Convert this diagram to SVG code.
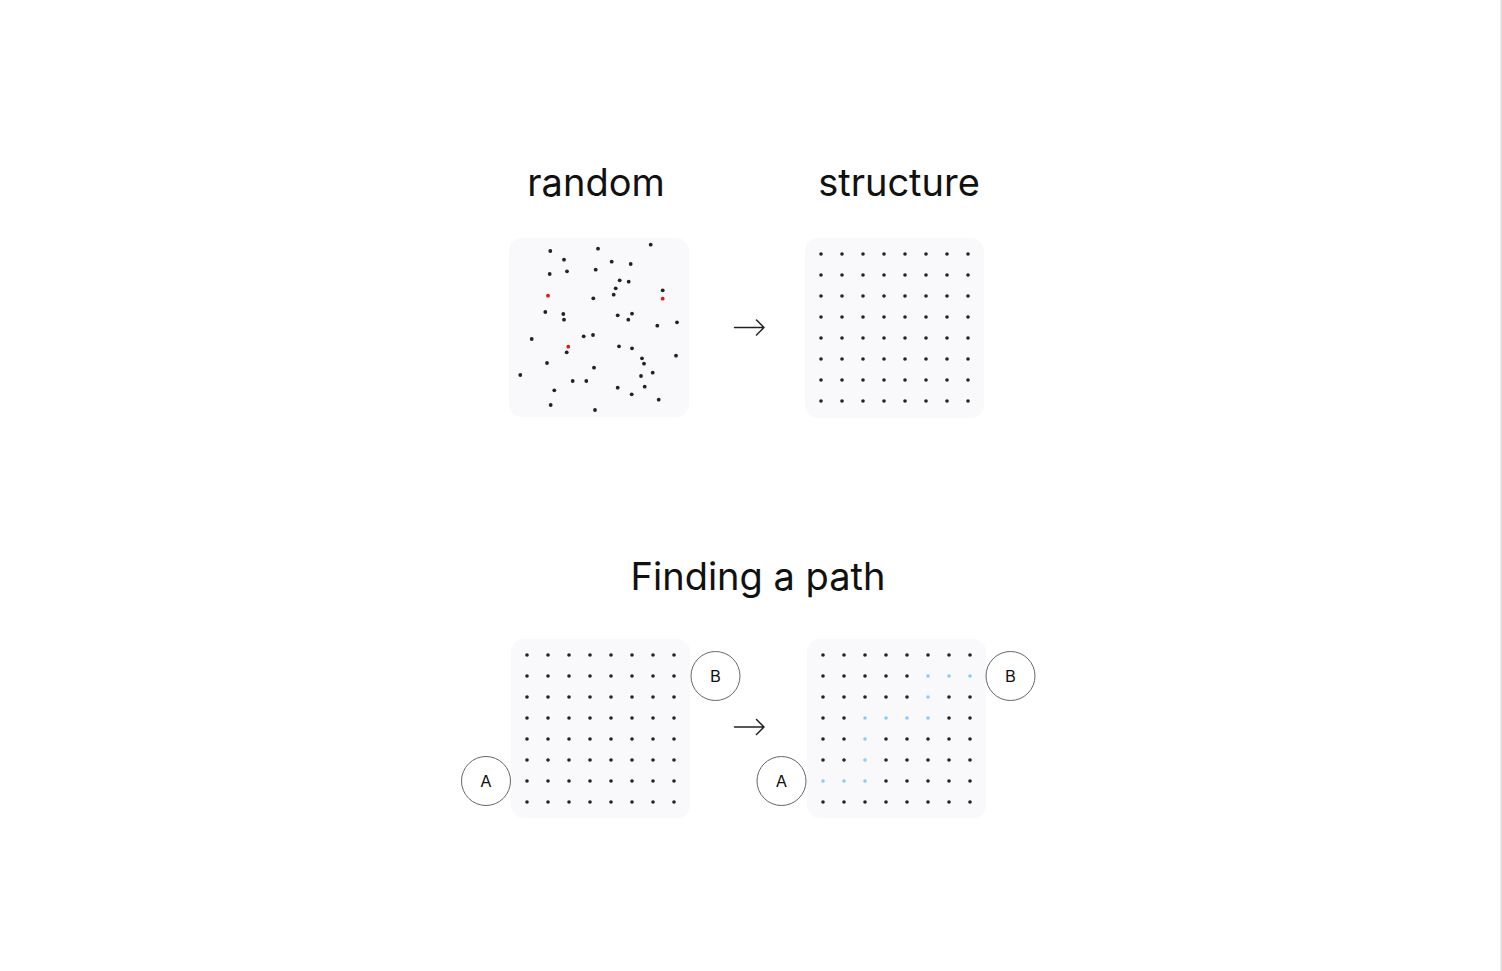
<svg xmlns="http://www.w3.org/2000/svg" xmlns:xlink="http://www.w3.org/1999/xlink" width="1502" height="971" viewBox="0 0 1502 971">
<style>
.title{font-family:Inter,"Noto Sans","Liberation Sans",sans-serif;font-size:38px;fill:#111;text-anchor:middle}
.lbl{font-family:Inter,"Noto Sans","Liberation Sans",sans-serif;font-size:16.5px;fill:#111;text-anchor:middle;dominant-baseline:central}
.box{fill:#f9f9fb}
.d{fill:#222}
.r{fill:#f01010}
.b{fill:#86cdf5}
.ring{fill:#fff;stroke:#666;stroke-width:1}
.conn{fill:none;stroke:#222;stroke-width:1.5;stroke-linecap:round;stroke-linejoin:round}
</style>
<defs>
<g id="row">
<circle cx="0" cy="0" r="1.8"/><circle cx="21" cy="0" r="1.8"/><circle cx="42" cy="0" r="1.8"/><circle cx="63" cy="0" r="1.8"/><circle cx="84" cy="0" r="1.8"/><circle cx="105" cy="0" r="1.8"/><circle cx="126" cy="0" r="1.8"/><circle cx="147" cy="0" r="1.8"/>
</g>
<g id="grid" class="d">
<use xlink:href="#row" y="0"/><use xlink:href="#row" y="21"/><use xlink:href="#row" y="42"/><use xlink:href="#row" y="63"/><use xlink:href="#row" y="84"/><use xlink:href="#row" y="105"/><use xlink:href="#row" y="126"/><use xlink:href="#row" y="147"/>
</g>
</defs>
<rect x="0" y="0" width="1502" height="971" fill="#fff"/>
<rect x="1500.5" y="0" width="1.5" height="971" fill="#dcdcdc"/>

<g id="titles">
<text class="title" x="596" y="196">random</text>
<text class="title" x="899" y="196">structure</text>
<text class="title" x="758" y="590">Finding a path</text>
</g>

<g id="random">
<rect class="box" x="509" y="238" width="180" height="179" rx="13"/>
<g class="d">
<circle cx="550.3" cy="251" r="1.9"/><circle cx="598" cy="248.7" r="1.9"/><circle cx="650.7" cy="244.7" r="1.9"/>
<circle cx="564" cy="259.7" r="1.9"/><circle cx="611.7" cy="261.7" r="1.9"/><circle cx="630.7" cy="264" r="1.9"/>
<circle cx="549.7" cy="274" r="1.9"/><circle cx="567" cy="271.3" r="1.9"/><circle cx="595.7" cy="269.7" r="1.9"/>
<circle cx="619.7" cy="280.3" r="1.9"/><circle cx="628.7" cy="281.7" r="1.9"/><circle cx="615.7" cy="288.3" r="1.9"/>
<circle cx="662.7" cy="290.3" r="1.9"/><circle cx="613.7" cy="294.7" r="1.9"/><circle cx="593.3" cy="298.3" r="1.9"/>
<circle cx="545.3" cy="312" r="1.9"/><circle cx="563.3" cy="314" r="1.9"/><circle cx="564" cy="319.7" r="1.9"/>
<circle cx="617.7" cy="315.3" r="1.9"/><circle cx="632" cy="313.7" r="1.9"/><circle cx="628.3" cy="319.7" r="1.9"/>
<circle cx="657.3" cy="325.7" r="1.9"/><circle cx="677" cy="322.3" r="1.9"/><circle cx="531.7" cy="339" r="1.9"/>
<circle cx="583.7" cy="336.3" r="1.9"/><circle cx="593" cy="335" r="1.9"/><circle cx="566.7" cy="352.3" r="1.9"/>
<circle cx="619" cy="346.3" r="1.9"/><circle cx="632" cy="348.3" r="1.9"/><circle cx="676" cy="355.7" r="1.9"/>
<circle cx="642" cy="358.3" r="1.9"/><circle cx="644" cy="363.7" r="1.9"/><circle cx="547" cy="363" r="1.9"/>
<circle cx="594" cy="367.7" r="1.9"/><circle cx="520.3" cy="375" r="1.9"/><circle cx="652.7" cy="372.7" r="1.9"/>
<circle cx="641" cy="376" r="1.9"/><circle cx="572.7" cy="381" r="1.9"/><circle cx="586.3" cy="381" r="1.9"/>
<circle cx="617.7" cy="387.7" r="1.9"/><circle cx="644.7" cy="386.7" r="1.9"/><circle cx="554.3" cy="390.3" r="1.9"/>
<circle cx="631.7" cy="394.3" r="1.9"/><circle cx="658.7" cy="399.7" r="1.9"/><circle cx="550.7" cy="405" r="1.9"/>
<circle cx="595" cy="410" r="1.9"/>
</g>
<g class="r">
<circle cx="548" cy="295.7" r="1.9"/><circle cx="662.7" cy="298.7" r="1.9"/><circle cx="568.3" cy="346.7" r="1.9"/>
</g>
</g>

<g id="structure">
<rect class="box" x="805" y="238" width="179" height="180" rx="13"/>
<use xlink:href="#grid" x="821" y="254"/>
</g>

<g id="path-before">
<rect class="box" x="511" y="639" width="179" height="179" rx="13"/>
<use xlink:href="#grid" x="527" y="655"/>
</g>

<g id="path-after">
<rect class="box" x="807" y="639" width="179" height="179" rx="13"/>
<g class="d">
<use xlink:href="#row" x="823" y="655"/>
<circle cx="823" cy="676" r="1.8"/><circle cx="844" cy="676" r="1.8"/><circle cx="865" cy="676" r="1.8"/><circle cx="886" cy="676" r="1.8"/><circle cx="907" cy="676" r="1.8"/>
<circle cx="823" cy="697" r="1.8"/><circle cx="844" cy="697" r="1.8"/><circle cx="865" cy="697" r="1.8"/><circle cx="886" cy="697" r="1.8"/><circle cx="907" cy="697" r="1.8"/><circle cx="949" cy="697" r="1.8"/><circle cx="970" cy="697" r="1.8"/>
<circle cx="823" cy="718" r="1.8"/><circle cx="844" cy="718" r="1.8"/><circle cx="949" cy="718" r="1.8"/><circle cx="970" cy="718" r="1.8"/>
<circle cx="823" cy="739" r="1.8"/><circle cx="844" cy="739" r="1.8"/><circle cx="886" cy="739" r="1.8"/><circle cx="907" cy="739" r="1.8"/><circle cx="928" cy="739" r="1.8"/><circle cx="949" cy="739" r="1.8"/><circle cx="970" cy="739" r="1.8"/>
<circle cx="823" cy="760" r="1.8"/><circle cx="844" cy="760" r="1.8"/><circle cx="886" cy="760" r="1.8"/><circle cx="907" cy="760" r="1.8"/><circle cx="928" cy="760" r="1.8"/><circle cx="949" cy="760" r="1.8"/><circle cx="970" cy="760" r="1.8"/>
<circle cx="886" cy="781" r="1.8"/><circle cx="907" cy="781" r="1.8"/><circle cx="928" cy="781" r="1.8"/><circle cx="949" cy="781" r="1.8"/><circle cx="970" cy="781" r="1.8"/>
<use xlink:href="#row" x="823" y="802"/>
</g>
<g class="b">
<circle cx="928" cy="676" r="1.8"/><circle cx="949" cy="676" r="1.8"/><circle cx="970" cy="676" r="1.8"/>
<circle cx="928" cy="697" r="1.8"/>
<circle cx="865" cy="718" r="1.8"/><circle cx="886" cy="718" r="1.8"/><circle cx="907" cy="718" r="1.8"/><circle cx="928" cy="718" r="1.8"/>
<circle cx="865" cy="739" r="1.8"/>
<circle cx="865" cy="760" r="1.8"/>
<circle cx="823" cy="781" r="1.8"/><circle cx="844" cy="781" r="1.8"/><circle cx="865" cy="781" r="1.8"/>
</g>
</g>

<g id="node-A1"><circle class="ring" cx="486" cy="781" r="24.5"/><text class="lbl" x="486" y="781">A</text></g>
<g id="node-B1"><circle class="ring" cx="715.5" cy="676" r="24.5"/><text class="lbl" x="715.5" y="676">B</text></g>
<g id="node-A2"><circle class="ring" cx="781.5" cy="781" r="24.5"/><text class="lbl" x="781.5" y="781">A</text></g>
<g id="node-B2"><circle class="ring" cx="1010.5" cy="676" r="24.5"/><text class="lbl" x="1010.5" y="676">B</text></g>

<g id="connectors">
<path class="conn" d="M734.5 327.5H764M756.5 320L764 327.5L756.5 335"/>
<path class="conn" d="M734.5 727H764M756.5 719.5L764 727L756.5 734.5"/>
</g>
</svg>
